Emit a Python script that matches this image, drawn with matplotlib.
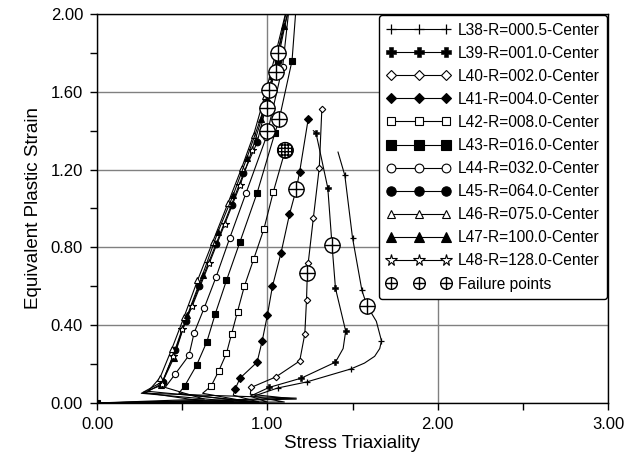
import matplotlib
matplotlib.use("Agg")
import matplotlib.pyplot as plt
from matplotlib.lines import Line2D
from matplotlib.ticker import MultipleLocator, FormatStrFormatter

plt.rcParams['font.family'] = ['Liberation Sans', 'DejaVu Sans']

# ---------------- data ----------------
labels = ["L38-R=000.5-Center", "L39-R=001.0-Center", "L40-R=002.0-Center",
          "L41-R=004.0-Center", "L42-R=008.0-Center", "L43-R=016.0-Center",
          "L44-R=032.0-Center", "L45-R=064.0-Center", "L46-R=075.0-Center",
          "L47-R=100.0-Center", "L48-R=128.0-Center"]

L38_x = [0, 1.10, 0.92, 1.06, 1.23, 1.49, 1.57, 1.63, 1.66, 1.67, 1.64, 1.585, 1.555, 1.50, 1.455, 1.415]
L38_y = [0, 0.005, 0.035, 0.077, 0.108, 0.175, 0.205, 0.24, 0.28, 0.32, 0.42, 0.50, 0.58, 0.85, 1.17, 1.29]
L39_x = [0, 1.00, 0.90, 1.01, 1.20, 1.40, 1.445, 1.46, 1.43, 1.40, 1.38, 1.355, 1.30, 1.285, 1.27]
L39_y = [0, 0.005, 0.035, 0.08, 0.128, 0.21, 0.28, 0.37, 0.48, 0.59, 0.81, 1.105, 1.33, 1.39, 1.40]
L40_x = [0, 1.17, 0.90, 0.905, 1.05, 1.19, 1.22, 1.23, 1.235, 1.24, 1.27, 1.305, 1.32]
L40_y = [0, 0.02, 0.045, 0.08, 0.134, 0.216, 0.355, 0.53, 0.67, 0.72, 0.95, 1.21, 1.51]
L41_x = [0, 0.95, 0.80, 0.81, 0.84, 0.94, 0.97, 1.00, 1.03, 1.08, 1.13, 1.17, 1.19, 1.24]
L41_y = [0, 0.005, 0.04, 0.07, 0.128, 0.21, 0.32, 0.45, 0.60, 0.77, 0.97, 1.10, 1.19, 1.46]
L42_x = [0, 0.90, 0.62, 0.67, 0.715, 0.76, 0.79, 0.825, 0.865, 0.92, 0.98, 1.035, 1.105]
L42_y = [0, 0.005, 0.05, 0.087, 0.165, 0.255, 0.355, 0.47, 0.60, 0.74, 0.895, 1.085, 1.30]
L43_x = [0, 0.90, 0.48, 0.515, 0.585, 0.645, 0.695, 0.76, 0.84, 0.94, 1.045, 1.07, 1.145, 1.17]
L43_y = [0, 0.005, 0.05, 0.088, 0.195, 0.315, 0.46, 0.63, 0.83, 1.08, 1.39, 1.46, 1.76, 2.05]
L44_x = [0, 0.63, 0.40, 0.46, 0.54, 0.57, 0.63, 0.70, 0.78, 0.875, 0.995, 1.09, 1.13]
L44_y = [0, 0.02, 0.08, 0.15, 0.245, 0.36, 0.49, 0.65, 0.85, 1.08, 1.37, 1.73, 2.05]
L45_x = [0, 0.62, 0.27, 0.385, 0.46, 0.52, 0.60, 0.70, 0.79, 0.86, 0.94, 1.00, 1.06, 1.13]
L45_y = [0, 0.01, 0.055, 0.11, 0.27, 0.42, 0.60, 0.82, 1.02, 1.18, 1.34, 1.55, 1.76, 2.05]
L46_x = [0, 0.95, 0.30, 0.37, 0.44, 0.51, 0.59, 0.68, 0.77, 0.85, 0.92, 0.985, 1.05, 1.12]
L46_y = [0, 0.005, 0.06, 0.13, 0.28, 0.44, 0.63, 0.83, 1.03, 1.21, 1.38, 1.58, 1.80, 2.05]
L47_x = [0, 0.80, 0.26, 0.375, 0.45, 0.53, 0.62, 0.71, 0.80, 0.88, 0.96, 1.03, 1.10, 1.135]
L47_y = [0, 0.008, 0.05, 0.09, 0.23, 0.45, 0.66, 0.88, 1.07, 1.26, 1.46, 1.68, 1.94, 2.05]
L48_x = [0, 1.17, 0.28, 0.38, 0.445, 0.50, 0.56, 0.66, 0.75, 0.84, 0.91, 0.98, 1.04, 1.12]
L48_y = [0, 0.025, 0.05, 0.10, 0.24, 0.38, 0.50, 0.72, 0.92, 1.12, 1.30, 1.50, 1.71, 2.05]

fail_x = [1.585, 1.38, 1.235, 1.17, 1.105, 1.07, 1.00, 1.00, 1.01, 1.05, 1.065]
fail_y = [0.50, 0.81, 0.67, 1.10, 1.30, 1.46, 1.40, 1.515, 1.61, 1.70, 1.80]

xs = [L38_x, L39_x, L40_x, L41_x, L42_x, L43_x, L44_x, L45_x, L46_x, L47_x, L48_x]
ys = [L38_y, L39_y, L40_y, L41_y, L42_y, L43_y, L44_y, L45_y, L46_y, L47_y, L48_y]

# ---------------- styles ----------------
styles = [
    dict(marker='+', ms=5, mew=0.9, mfc='black'),
    dict(marker='P', ms=5, mew=0.4, mfc='black'),
    dict(marker='D', ms=3.3, mew=0.8, mfc='white'),
    dict(marker='D', ms=3.6, mew=0.8, mfc='black'),
    dict(marker='s', ms=4.2, mew=0.8, mfc='white'),
    dict(marker='s', ms=4.8, mew=0.8, mfc='black'),
    dict(marker='o', ms=4.5, mew=0.8, mfc='white'),
    dict(marker='o', ms=4.8, mew=0.8, mfc='black'),
    dict(marker='^', ms=4.5, mew=0.8, mfc='white'),
    dict(marker='^', ms=4.8, mew=0.8, mfc='black'),
    dict(marker='*', ms=6, mew=0.8, mfc='white'),
]
marker_idx = [
    [3, 4, 5, 9, 12, 13, 14],
    [3, 4, 5, 7, 9, 11, 13],
    [3, 4, 5, 6, 7, 9, 10, 11, 12],
    [3, 4, 5, 6, 7, 8, 9, 10, 12, 13],
    [3, 4, 5, 6, 7, 8, 9, 10, 11],
    [0, 3, 4, 5, 6, 7, 8, 9, 10, 12],
    [3, 4, 5, 6, 7, 8, 9, 10, 11],
    [3, 4, 5, 6, 7, 8, 9, 10, 11, 12],
    [3, 4, 5, 6, 7, 8, 9, 10, 11, 12],
    [3, 4, 5, 6, 7, 8, 9, 10, 11, 12],
    [3, 4, 5, 6, 7, 8, 9, 10, 11, 12],
]

fig = plt.figure(figsize=(6.24, 4.70), dpi=100)
ax = fig.add_axes([97/624, 1-403/470, (608-97)/624, (403-14)/470])

handles = []
for x, y, st, mi, lab in zip(xs, ys, styles, marker_idx, labels):
    ln, = ax.plot(x, y, color='black', lw=0.8, mec='black', markevery=mi,
                  label=lab, zorder=3, clip_on=True, **st)
    handles.append(ln)

# failure points
ax.plot(fail_x, fail_y, ls='none', marker='o', ms=11, mfc='white', mec='black', mew=1.0, zorder=5)
ax.plot(fail_x, fail_y, ls='none', marker='+', ms=11, mec='black', mew=1.0, zorder=6)
ax.scatter(fail_x[4:5], fail_y[4:5], marker='o', s=120, facecolor='white',
           edgecolor='black', hatch='+++++', linewidth=1.0, zorder=7)

h_fail = (Line2D([], [], ls='none', marker='o', ms=6, mfc='white', mec='black', mew=1.0),
          Line2D([], [], ls='none', marker='+', ms=6, mec='black', mew=1.0))

ax.set_xlim(0, 3)
ax.set_ylim(0, 2)
ax.xaxis.set_major_locator(MultipleLocator(1.0))
ax.xaxis.set_minor_locator(MultipleLocator(0.5))
ax.yaxis.set_major_locator(MultipleLocator(0.4))
ax.yaxis.set_minor_locator(MultipleLocator(0.2))
ax.xaxis.set_major_formatter(FormatStrFormatter('%.2f'))
ax.yaxis.set_major_formatter(FormatStrFormatter('%.2f'))
ax.tick_params(which='both', direction='out', length=5, width=1, colors='black')
ax.tick_params(which='major', labelsize=12, pad=5)
ax.grid(True, which='major', color='#808080', lw=1.0, zorder=0)
ax.set_axisbelow(True)
for s in ax.spines.values():
    s.set_linewidth(1.0)
    s.set_color('black')

ax.set_xlabel('Stress Triaxiality', fontsize=13.5, labelpad=2)
ax.set_ylabel('Equivalent Plastic Strain', fontsize=13.5, labelpad=6)

leg = ax.legend(handles + [h_fail], labels + ['Failure points'], loc='upper right',
                numpoints=3, handlelength=4.1, handletextpad=0.45, labelspacing=0.52,
                borderpad=0.5, borderaxespad=0.05, fontsize=11.2, fancybox=True,
                framealpha=1, edgecolor='black', markerscale=1.4)
leg.get_frame().set_linewidth(1.0)
leg.set_zorder(10)

fig.savefig('out.png', dpi=100)
